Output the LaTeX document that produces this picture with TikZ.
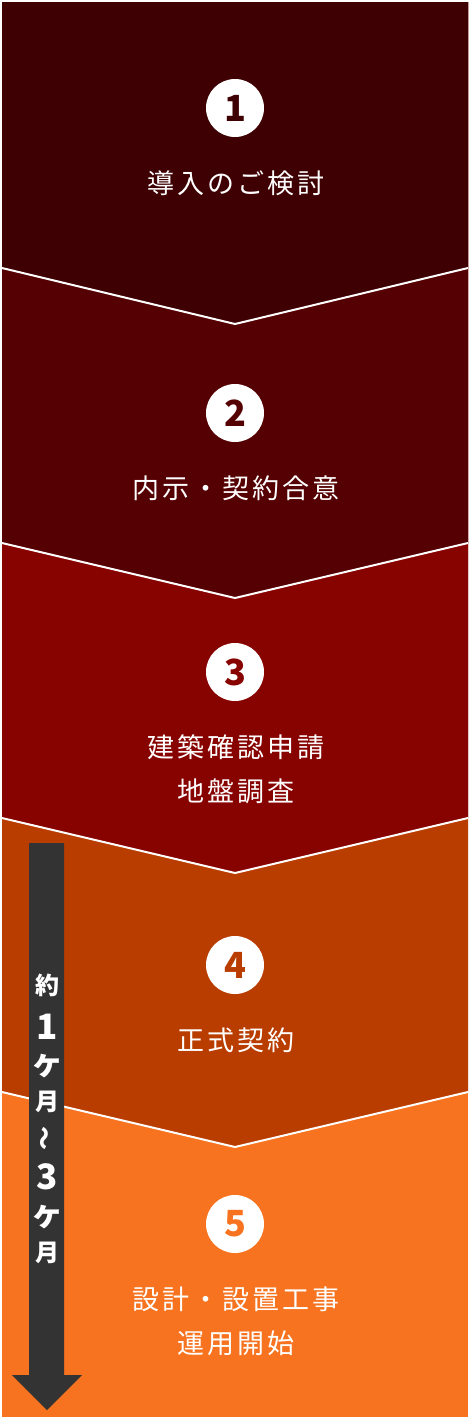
\documentclass[tikz,border=0pt]{standalone}
\usepackage{fontspec}
\setmainfont{Noto Sans CJK JP}
\newfontfamily\jpls[LetterSpace=11]{Noto Sans CJK JP}
\definecolor{cone}{HTML}{3E0002}
\definecolor{ctwo}{HTML}{550002}
\definecolor{cthree}{HTML}{870300}
\definecolor{cfour}{HTML}{BA3D00}
\definecolor{cfive}{HTML}{F7731F}
\definecolor{arrowc}{HTML}{333333}
\tikzset{
  stepnum/.style={circle, fill=white, minimum size=58pt, inner sep=0pt,
    font=\bfseries\fontsize{36}{36}\selectfont},
  steptext/.style={text=white, align=center, inner sep=0pt,
    font=\jpls\fontsize{27}{44}\selectfont},
  sepline/.style={draw=white, line width=2pt},
  arrtext/.style={text=white, inner sep=0pt, font=\bfseries\fontsize{24}{24}\selectfont},
  arrsmall/.style={text=white, inner sep=0pt, font=\bfseries\fontsize{32}{32}\selectfont},
  arrnum/.style={text=white, inner sep=0pt, font=\bfseries\fontsize{35}{35}\selectfont}
}
\begin{document}
\begin{tikzpicture}[x=1pt,y=-1pt]
\useasboundingbox (0,0) rectangle (470,1419);
\fill[white] (0,0) rectangle (470,1419);
% sections painted bottom-up
\fill[cfive] (2,2) rectangle (468,1417);
\fill[cfour] (2,2) -- (468,2) -- (468,1092) -- (235,1147) -- (2,1092) -- cycle;
\fill[cthree] (2,2) -- (468,2) -- (468,818) -- (235,873) -- (2,818) -- cycle;
\fill[ctwo] (2,2) -- (468,2) -- (468,543) -- (235,598) -- (2,543) -- cycle;
\fill[cone] (2,2) -- (468,2) -- (468,268) -- (235,324) -- (2,268) -- cycle;
% separators
\draw[sepline] (2,268) -- (235,324) -- (468,268);
\draw[sepline] (2,543) -- (235,598) -- (468,543);
\draw[sepline] (2,818) -- (235,873) -- (468,818);
\draw[sepline] (2,1092) -- (235,1147) -- (468,1092);
% steps
\node[stepnum, text=cone] (n1) at (235,108) {1};
\node[steptext] (t1) at (236,183) {導入のご検討};
\node[stepnum, text=ctwo] (n2) at (235,413) {2};
\node[steptext] (t2) at (236,488) {内示・契約合意};
\node[stepnum, text=cthree] (n3) at (235,672) {3};
\node[steptext] (t3) at (236,769) {建築確認申請\\地盤調査};
\node[stepnum, text=cfour] (n4) at (235,965) {4};
\node[steptext] (t4) at (236,1040) {正式契約};
\node[stepnum, text=cfive] (n5) at (235,1224) {5};
\node[steptext] (t5) at (236,1321) {設計・設置工事\\運用開始};
% duration arrow
\fill[arrowc] (29,843) -- (64,843) -- (64,1375) -- (82,1375) -- (47,1410) -- (12,1375) -- (29,1375) -- cycle;
\node[arrtext] (a1) at (47,985) {約};
\node[arrnum] (a2) at (47,1027) {1};
\node[arrsmall] (a3) at (47,1066) {ヶ};
\node[arrtext] (a4) at (47,1102) {月};
\node[arrtext, rotate=90] (a5) at (47,1138) {～};
\node[arrnum] (a6) at (47,1177) {3};
\node[arrsmall] (a7) at (47,1217) {ヶ};
\node[arrtext] (a8) at (47,1253) {月};
\end{tikzpicture}
\end{document}
